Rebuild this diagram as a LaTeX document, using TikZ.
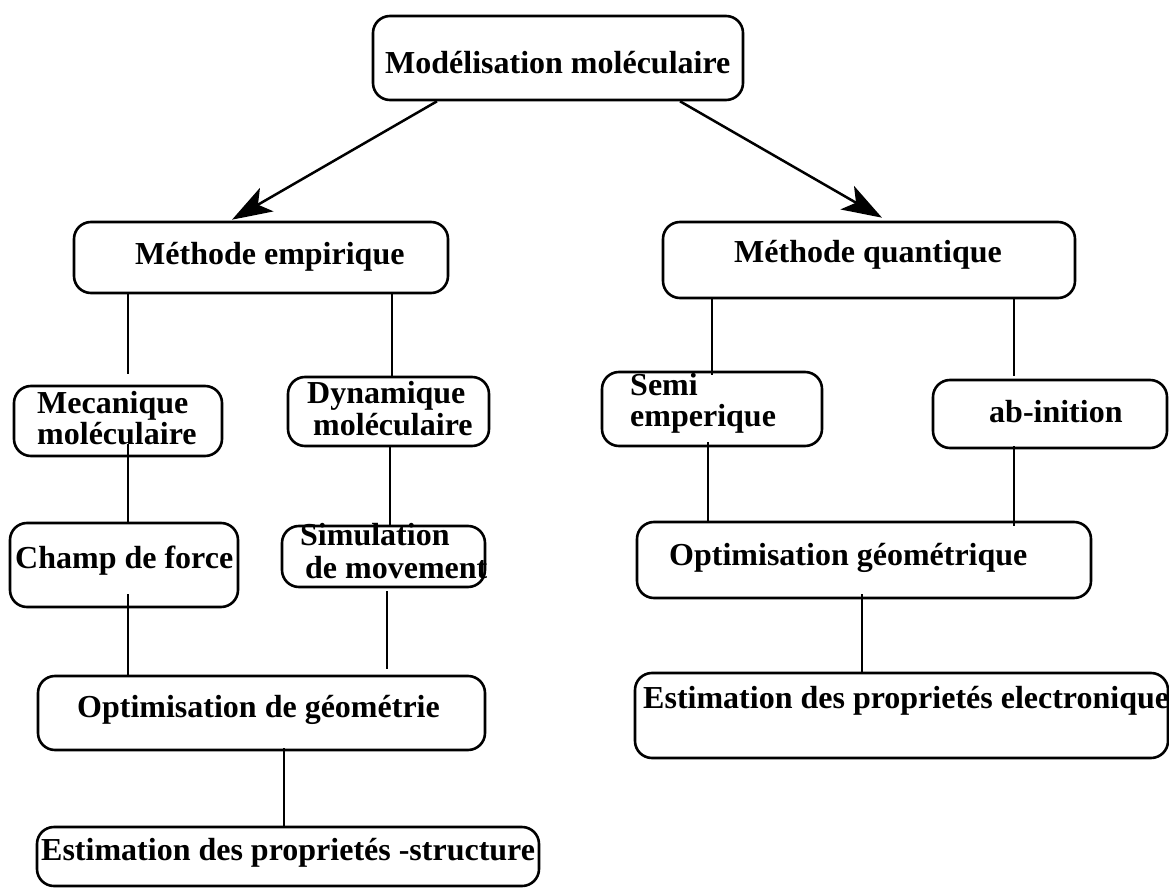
\documentclass[tikz,border=0pt]{standalone}
\usepackage{fontspec}
\setmainfont{Liberation Serif}
\usetikzlibrary{arrows.meta}
\begin{document}
\begin{tikzpicture}[x=1pt,y=-1pt,
  box/.style={draw,line width=2.6pt,rounded corners=17pt,rectangle,inner sep=0pt},
  lbl/.style={anchor=base west,inner sep=0pt,font=\fontsize{32}{31}\selectfont\bfseries},
  link/.style={line width=2.5pt},
  arr/.style={line width=2.5pt,-{Stealth[length=40pt,width=27pt,inset=10pt]}}]
\useasboundingbox (0,0) rectangle (1169,890);

% boxes
\node[box,minimum width=370pt,minimum height=84pt] (top)   at (558,58) {};
\node[box,minimum width=374pt,minimum height=71pt] (emp)   at (261,257.5) {};
\node[box,minimum width=412pt,minimum height=76pt] (quant) at (869,260) {};
\node[box,minimum width=208pt,minimum height=70pt] (meca)  at (118,421) {};
\node[box,minimum width=201pt,minimum height=69pt] (dyn)   at (388.5,411.5) {};
\node[box,minimum width=220pt,minimum height=74pt] (semi)  at (712,409) {};
\node[box,minimum width=234pt,minimum height=68pt] (ab)    at (1050,414) {};
\node[box,minimum width=228pt,minimum height=84pt] (champ) at (124,565) {};
\node[box,minimum width=203pt,minimum height=61pt] (sim)   at (383.5,556.5) {};
\node[box,minimum width=454pt,minimum height=76pt] (optq)  at (864,560) {};
\node[box,minimum width=447pt,minimum height=74pt] (optd)  at (261.5,713) {};
\node[box,minimum width=533pt,minimum height=85pt] (estq)  at (901.5,715.5) {};
\node[box,minimum width=502pt,minimum height=59pt] (ests)  at (288,856.5) {};

% labels
\node[lbl] (top-t)   at (385,74)  {Modélisation moléculaire};
\node[lbl] (emp-t)   at (135,265) {Méthode empirique};
\node[lbl] (quant-t) at (734,263) {Méthode quantique};
\node[lbl] (meca-a)  at (37,413)  {Mecanique};
\node[lbl] (meca-b)  at (37,444)  {moléculaire};
\node[lbl] (dyn-a)   at (307,403) {Dynamique};
\node[lbl] (dyn-b)   at (313,435) {moléculaire};
\node[lbl] (semi-a)  at (630,395) {Semi};
\node[lbl] (semi-b)  at (630,426) {emperique};
\node[lbl] (ab-t)    at (989,422) {ab-inition};
\node[lbl] (champ-t) at (15,568)  {Champ de force};
\node[lbl] (sim-a)   at (300,545) {Simulation};
\node[lbl] (sim-b)   at (305,578) {de movement};
\node[lbl] (optq-t)  at (669,565) {Optimisation géométrique};
\node[lbl] (optd-t)  at (77,717)  {Optimisation de géométrie};
\node[lbl] (estq-t)  at (643,708) {Estimation des proprietés electronique};
\node[lbl] (ests-t)  at (41,860)  {Estimation des proprietés -structure};

% vertical positions of the connectors
\coordinate (xa) at (128,0);
\coordinate (xb) at (392,0);
\coordinate (xc) at (390,0);
\coordinate (xd) at (387,0);
\coordinate (xe) at (284,0);
\coordinate (xf) at (712,0);
\coordinate (xg) at (708,0);
\coordinate (xh) at (1014,0);
\coordinate (xi) at (862,0);
\coordinate (al) at (437,0);
\coordinate (ar) at (680,0);
\coordinate (tl) at (232,0);
\coordinate (tr) at (882,0);

% arrows from the root
\draw[arr] (top.south -| al) -- ([yshift=1pt]emp.north -| tl);
\draw[arr] (top.south -| ar) -- ([yshift=3pt]quant.north -| tr);

% empirical branch
\draw[link] (emp.south -| xa) -- ([yshift=11pt]meca.north -| xa);
\draw[link] (emp.south -| xb) -- (dyn.north -| xb);
\draw[link] ([yshift=13pt]meca.south -| xa) -- (champ.north -| xa);
\draw[link] (dyn.south -| xc) -- (sim.north -| xc);
\draw[link] ([yshift=14pt]champ.south -| xa) -- (optd.north -| xa);
\draw[link] ([yshift=-3pt]sim.south -| xd) -- ([yshift=6pt]optd.north -| xd);
\draw[link] ([yshift=3pt]optd.south -| xe) -- (ests.north -| xe);

% quantum branch
\draw[link] (quant.south -| xf) -- ([yshift=-4pt]semi.north -| xf);
\draw[link] (quant.south -| xh) -- ([yshift=3pt]ab.north -| xh);
\draw[link] ([yshift=5pt]semi.south -| xg) -- (optq.north -| xg);
\draw[link] ([yshift=3pt]ab.south -| xh) -- ([yshift=-5pt]optq.north -| xh);
\draw[link] ([yshift=5pt]optq.south -| xi) -- (estq.north -| xi);
\end{tikzpicture}
\end{document}
